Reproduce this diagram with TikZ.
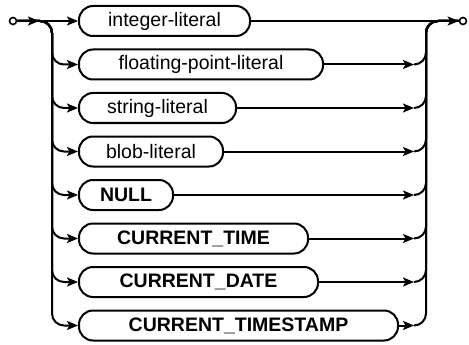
\documentclass[tikz,border=0pt]{standalone}
\usepackage{fontspec}
\setmainfont{Liberation Sans}
\usetikzlibrary{arrows.meta, positioning}

\begin{document}
\begin{tikzpicture}[x=1pt, y=-1pt, line width=2pt,
    every node/.style={font=\fontsize{19.5}{22}\selectfont},
    term/.style={draw, rectangle, rounded corners=14pt, minimum height=30pt, anchor=west, inner sep=0pt},
    kw/.style={term, font=\fontsize{19.5}{22}\selectfont\bfseries},
    arr/.style={-{Stealth[length=11pt, width=9pt, inset=2.5pt]}},
    rail/.style={rounded corners=12pt}]
    \useasboundingbox (0,0) rectangle (469,345);

    \node[draw, circle, inner sep=0pt, minimum size=7pt, line width=1.6pt] (start) at (13,21) {};
    \node[draw, circle, inner sep=0pt, minimum size=7pt, line width=1.6pt] (fin) at (463,21) {};
    \coordinate (a1) at (39,21);
    \coordinate (lv) at (52,21);
    \coordinate (ra) at (414,21);
    \coordinate (rv) at (426,21);

    \node[term, minimum width=171pt] (int) at (78,21) {integer-literal};
    \node[term, minimum width=244pt] (float) at (78,64.5) {floating-point-literal};
    \node[term, minimum width=157pt] (str) at (78,108) {string-literal};
    \node[term, minimum width=144pt] (blob) at (78,151.5) {blob-literal};
    \node[kw, minimum width=94pt] (null) at (78,195) {NULL};
    \node[kw, minimum width=229pt] (ctime) at (78,238.5) {CURRENT\_TIME};
    \node[kw, minimum width=239pt] (cdate) at (78,282) {CURRENT\_DATE};
    \node[kw, minimum width=319pt] (cts) at (78,325.5) {CURRENT\_TIMESTAMP};

    % top row
    \draw[arr] (start) -- (a1);
    \draw[arr] (start) -- (int);
    \draw[arr] (int) -- (fin);

    % left branches
    \draw[rail, arr] (start) -| (lv |- float.west) -- (float.west);
    \draw[rail, arr] (start) -| (lv |- str.west) -- (str.west);
    \draw[rail, arr] (start) -| (lv |- blob.west) -- (blob.west);
    \draw[rail, arr] (start) -| (lv |- null.west) -- (null.west);
    \draw[rail, arr] (start) -| (lv |- ctime.west) -- (ctime.west);
    \draw[rail, arr] (start) -| (lv |- cdate.west) -- (cdate.west);
    \draw[rail, arr] (start) -| (lv |- cts.west) -- (cts.west);

    % right branches
    \draw[arr] (float) -- (ra |- float);
    \draw[rail] (ra |- float) -| (rv) -- (fin);
    \draw[arr] (str) -- (ra |- str);
    \draw[rail] (ra |- str) -| (rv) -- (fin);
    \draw[arr] (blob) -- (ra |- blob);
    \draw[rail] (ra |- blob) -| (rv) -- (fin);
    \draw[arr] (null) -- (ra |- null);
    \draw[rail] (ra |- null) -| (rv) -- (fin);
    \draw[arr] (ctime) -- (ra |- ctime);
    \draw[rail] (ra |- ctime) -| (rv) -- (fin);
    \draw[arr] (cdate) -- (ra |- cdate);
    \draw[rail] (ra |- cdate) -| (rv) -- (fin);
    \draw[arr] (cts) -- (ra |- cts);
    \draw[rail] (ra |- cts) -| (rv) -- (fin);
\end{tikzpicture}
\end{document}
